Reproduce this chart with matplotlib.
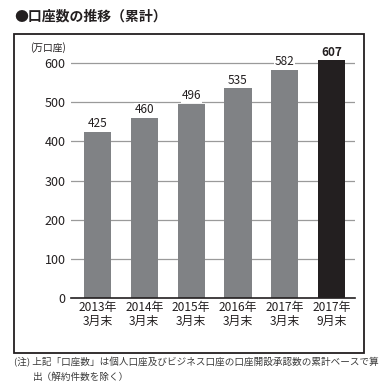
import matplotlib.pyplot as plt
from matplotlib.patches import Rectangle

plt.rcParams['font.family'] = ['Noto Sans CJK JP', 'DejaVu Sans']

labels = ['2013年\n3月末', '2014年\n3月末', '2015年\n3月末', '2016年\n3月末', '2017年\n3月末', '2017年\n9月末']
values = [425, 460, 496, 535, 582, 607]
colors = ['#808285'] * 5 + ['#231f20']

W, H = 381, 389
fig = plt.figure(figsize=(W / 100, H / 100), dpi=100)

# frame around chart
fig.patches.append(Rectangle((14 / W, 1 - 353 / H), 350 / W, 319 / H, transform=fig.transFigure,
                             fill=False, edgecolor='#231f20', linewidth=1.3))

px = 235 / 600  # pixels per unit
top_val = 630
ax = fig.add_axes([71 / W, 1 - 298 / H, 284 / W, top_val * px / H])
x = list(range(len(values)))
ax.set_xlim(-0.566, 5.50)
ax.set_ylim(0, top_val)
for y in range(100, 700, 100):
    ax.axhline(y, color='#9a9a9a', linewidth=0.9, zorder=0)
ax.bar(x, values, width=0.58, color=colors, zorder=2)

for i, v in enumerate(values):
    bold = i == len(values) - 1
    ax.text(i, v + 4, str(v), ha='center', va='bottom', fontsize=8.5,
            fontweight='bold' if bold else 'normal', color='#231f20', zorder=3,
            bbox=dict(facecolor='white', edgecolor='none', pad=0.5))

for s in ['top', 'right', 'left']:
    ax.spines[s].set_visible(False)
ax.spines['bottom'].set_color('#231f20')
ax.spines['bottom'].set_linewidth(1.2)
ax.set_yticks(range(0, 700, 100))
ax.set_xticks(x)
ax.set_xticklabels(labels, fontsize=8.6, linespacing=1.1, color='#231f20')
ax.tick_params(axis='x', length=0, pad=2)
ax.tick_params(axis='y', length=0, pad=4, labelsize=9, labelcolor='#231f20')

fig.text(30 / W, 1 - 48 / H, '(万口座)', fontsize=7, va='center', ha='left', color='#231f20')
fig.text(14 / W, 1 - 16 / H, '●口座数の推移（累計）', fontsize=10, fontweight='bold',
         va='center', ha='left', color='#231f20')
fig.text(14 / W, 1 - 362 / H, '(注) 上記「口座数」は個人口座及びビジネス口座の口座開設承認数の累計ベースで算',
         fontsize=6.9, va='center', ha='left', color='#3a3a3a')
fig.text(33 / W, 1 - 377 / H, '出（解約件数を除く）',
         fontsize=6.9, va='center', ha='left', color='#3a3a3a')

fig.savefig('out.png', dpi=100)
